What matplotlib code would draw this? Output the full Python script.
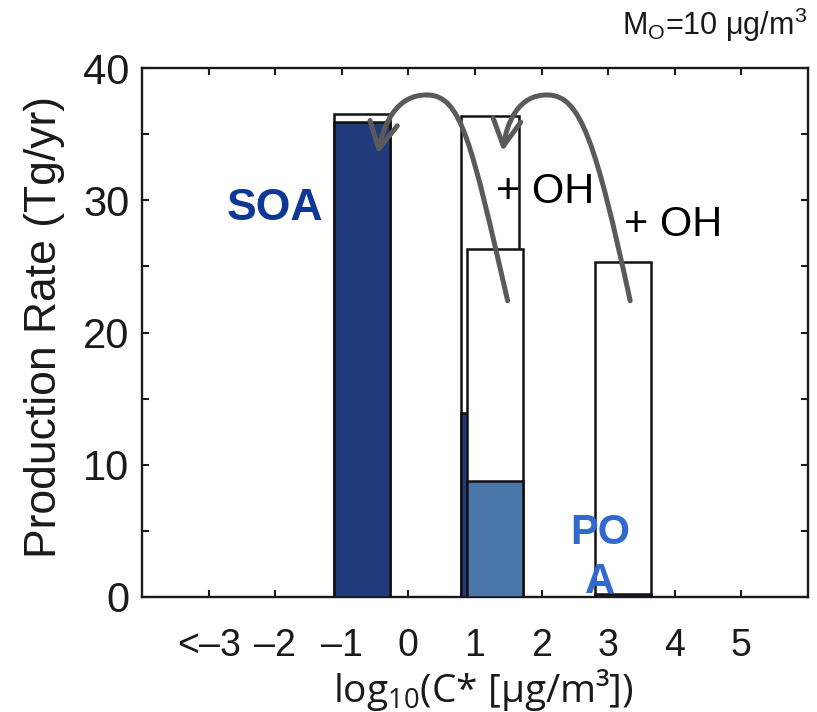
import numpy as np
import matplotlib.pyplot as plt
from matplotlib.path import Path
from matplotlib.patches import FancyArrowPatch

plt.rcParams['font.family'] = ['Liberation Sans', 'DejaVu Sans']

# columns: volatility bin (log10 C*), total production, coloured part
bins = [-1, 1, 1, 3]
totals = [36.5, 36.4, 26.3, 25.3]
filled = [35.9, 13.9, 8.8, 0.2]
fill_colors = ['#213a7b', '#213a7b', '#4a76a9', '#213a7b']

tick_vals = [-3, -2, -1, 0, 1, 2, 3, 4, 5]
tick_labels = ['<–3', '–2', '–1', '0', '1', '2', '3', '4', '5']

# layout: each column sits a bit right of its bin, the two at bin 1 overlap
shift = [0.30, 0.22, 0.30, 0.22]
width = [0.84, 0.87, 0.83, 0.84]

fig = plt.figure(figsize=(8.17, 7.12), dpi=100)
ax = fig.add_axes([142/817, 1-597/712, 666/817, 529/712])

for i in range(len(bins)):
    x = bins[i] + shift[i]
    ax.bar(x, totals[i], width[i], color='white', edgecolor='#111111', lw=1.8, zorder=3+i)
    ax.bar(x, filled[i], width[i], color=fill_colors[i], edgecolor='#111111', lw=1.8, zorder=3+i)

ax.set_xlim(-4, 6)
ax.set_ylim(0, 40)
ax.set_xticks(tick_vals)
ax.set_xticklabels(tick_labels)
ax.set_yticks(np.arange(0, 41, 5))
ax.set_yticklabels(['0', '', '10', '', '20', '', '30', '', '40'])
ax.tick_params(direction='in', length=5, width=1.5, top=True, right=True,
               labelsize=30, colors='#1a1a1a')
ax.tick_params(axis='y', pad=9)
ax.tick_params(axis='x', pad=22, labelsize=27)
for s in ax.spines.values():
    s.set_linewidth(1.7)
    s.set_color('#1a1a1a')

# curved "oxidation" arrows
codes = [Path.MOVETO, Path.CURVE4, Path.CURVE4, Path.CURVE4,
         Path.CURVE4, Path.CURVE4, Path.CURVE4]
arrow1 = [(1.49, 22.4), (0.94, 34.5), (0.79, 37.9), (0.29, 37.96),
          (-0.19, 38.04), (-0.38, 35.6), (-0.46, 33.5)]
arrow2 = [(3.33, 22.4), (2.81, 34.5), (2.58, 37.9), (2.10, 37.96),
          (1.65, 38.04), (1.475, 35.85), (1.415, 33.7)]
for verts in [arrow1, arrow2]:
    a = FancyArrowPatch(path=Path(verts, codes),
                        arrowstyle='->,head_length=0.75,head_width=0.4',
                        mutation_scale=25, color='#5a5a5a', lw=3.6, zorder=10)
    ax.add_patch(a)

ax.text(-2.01, 29.4, 'SOA', fontsize=32, fontweight='bold', color='#0f3796',
        ha='center', va='center', zorder=11)
ax.text(2.06, 30.6, '+ OH', fontsize=30, ha='center', va='center', zorder=11)
ax.text(3.98, 28.15, '+ OH', fontsize=30, ha='center', va='center', zorder=11)
ax.text(2.88, 3.0, 'PO\nA', fontsize=30, fontweight='bold', color='#3269cd',
        ha='center', va='center', linespacing=1.3, zorder=11, clip_on=False)

fig.text(45/817, 1-327/712, 'Production Rate (Tg/yr)', rotation=90,
         fontsize=32, ha='center', va='center', color='#1a1a1a')
fig.text(483/817, 1-690/712, r'log$_\mathregular{10}$(C* [μg/m³])',
         family=['Open Sans', 'DejaVu Sans'], fontsize=28,
         ha='center', va='center', color='#1a1a1a')
fig.text(622/817, 1-35/712, r'M$_\mathregular{O}$=10 μg/m$^\mathregular{3}$',
         fontsize=22, ha='left', va='baseline', color='#1a1a1a')

fig.savefig('out.png', dpi=100)
